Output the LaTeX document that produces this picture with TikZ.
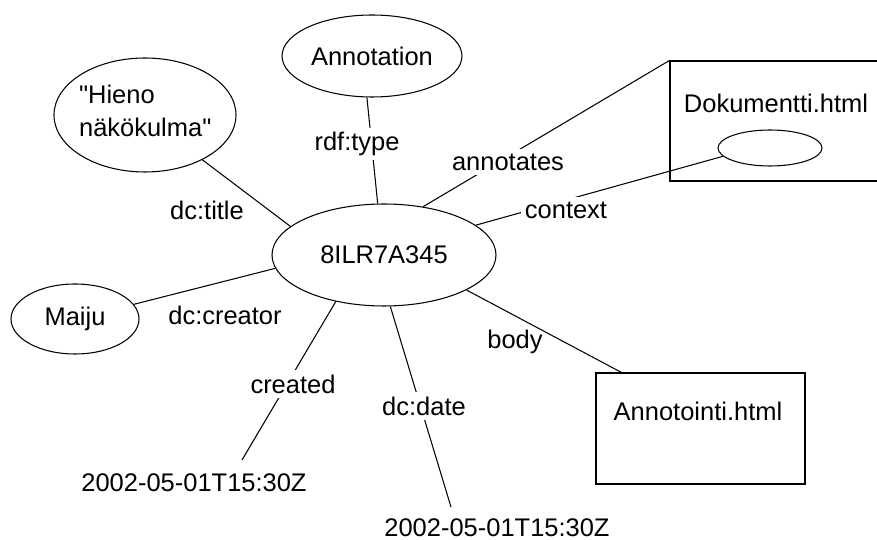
\documentclass[tikz,border=0pt]{standalone}
\usepackage{fontspec}
\setmainfont{Liberation Sans}[Ligatures=TeXOff]
\usetikzlibrary{shapes.geometric,calc}

\tikzset{
  res/.style={ellipse, draw, line width=0.6pt, inner sep=0pt},
  doc/.style={rectangle, draw, line width=0.6pt, inner sep=0pt},
  link/.style={line width=0.6pt},
  cut/.style={fill=white, inner sep=2.5pt},
  lbl/.style={inner sep=1pt},
  plain/.style={inner sep=1pt}
}

\begin{document}
\begin{tikzpicture}[x=0.02cm, y=-0.02cm,
  font=\fontsize{14.5pt}{18.7pt}\selectfont]
  \useasboundingbox (0,0) rectangle (877,540);
  \clip (0,0) rectangle (877,540);

  % resources
  \node[res, minimum width=224*0.02cm, minimum height=102*0.02cm] (c) at (384,255) {8ILR7A345};
  \node[res, minimum width=180*0.02cm, minimum height=82*0.02cm] (ann) at (372,56) {Annotation};
  \node[res, minimum width=182*0.02cm, minimum height=114*0.02cm] (hieno) at (145,115) {};
  \node[plain, anchor=west, align=left] (hienotxt) at (77,111) {"Hieno\\näkökulma"};
  \node[res, minimum width=128*0.02cm, minimum height=70*0.02cm] (maiju) at (75,319) {Maiju};

  % documents
  \node[doc, minimum width=230*0.02cm, minimum height=120*0.02cm] (dok) at (785,121) {};
  \node[plain] (doktxt) at (776,103) {Dokumentti.html};
  \node[res, minimum width=104*0.02cm, minimum height=36*0.02cm] (spot) at (770,148) {};
  \node[doc, minimum width=209*0.02cm, minimum height=111*0.02cm] (anno) at (700.5,428.5) {};
  \node[plain] (annotxt) at (698,411) {Annotointi.html};

  % literal values
  \node[plain] (d1) at (194,483) {2002-05-01T15:30Z};
  \node[plain] (d2) at (497,528) {2002-05-01T15:30Z};

  % properties
  \draw[link] (ann.263) -- (c.97);
  \draw[link] (hieno.-38) -- (c.163);
  \draw[link] (c.51) -- (dok.north west);
  \draw[link] (c.18) -- (spot.190);
  \draw[link] (maiju.14) -- (c.187);
  \draw[link] (c.224) -- ($(d1.center)+(48,-23)$);
  \draw[link] (c.277) -- ($(d2.center)+(-46,-21)$);
  \draw[link] (c.337) -- ($(anno.north west)+(26,0)$);

  % property labels
  \node[cut] (l-type) at (357,144) {rdf:type};
  \node[lbl] (l-title) at (207,210) {dc:title};
  \node[cut] (l-annotates) at (508,162) {annotates};
  \node[cut] (l-context) at (566,210) {context};
  \node[lbl] (l-creator) at (225,315) {dc:creator};
  \node[cut] (l-created) at (293,384) {created};
  \node[cut] (l-date) at (424,406) {dc:date};
  \node[lbl] (l-body) at (515,342) {body};
\end{tikzpicture}
\end{document}
